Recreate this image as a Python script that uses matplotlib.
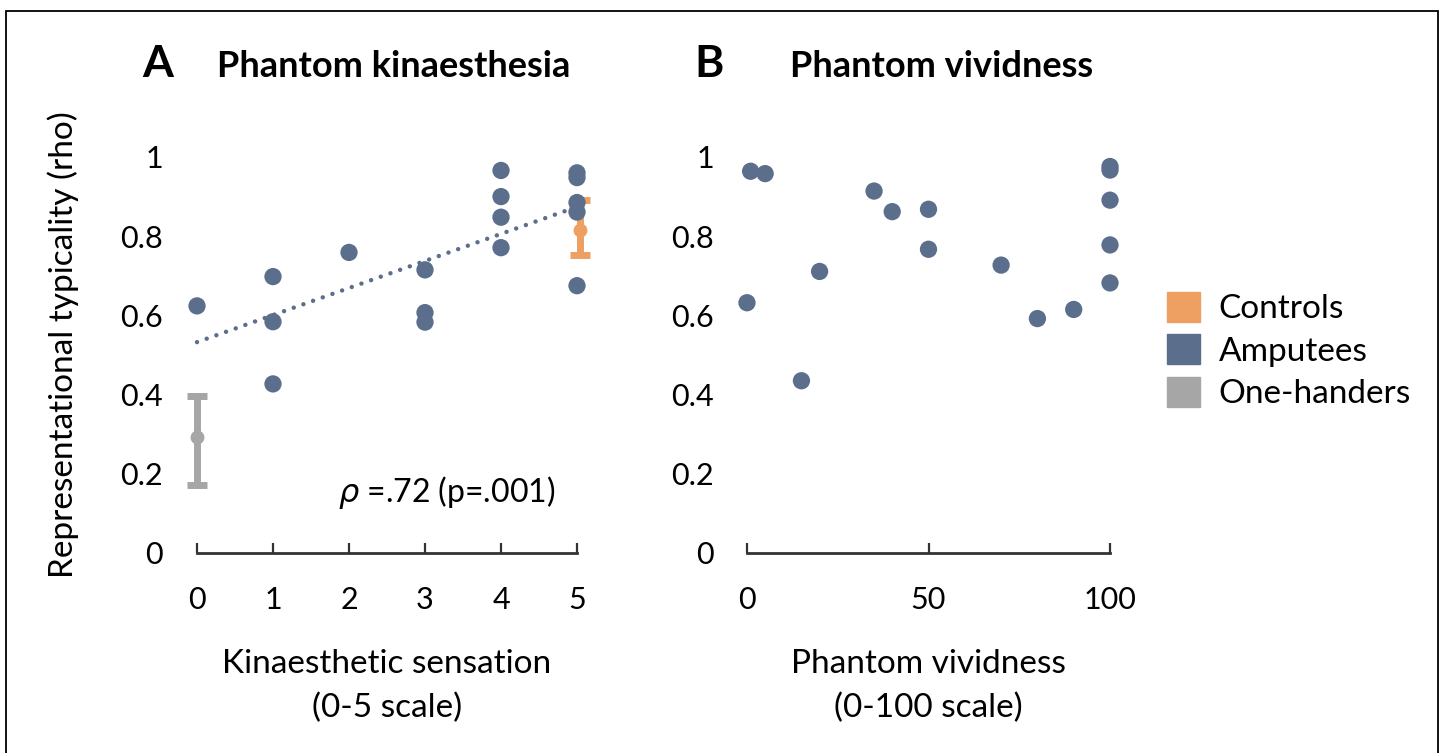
import matplotlib
matplotlib.use("Agg")
import matplotlib.pyplot as plt
import numpy as np
from matplotlib.patches import Patch, Rectangle
from matplotlib.ticker import FuncFormatter

plt.rcParams['font.family'] = ['Lato', 'DejaVu Sans']

# Panel A: kinaesthetic sensation (0-5) vs representational typicality, amputees
kin_x = [0, 1, 1, 1, 2, 3, 3, 3, 4, 4, 4, 4, 5, 5, 5, 5, 5]
kin_y = [0.624, 0.698, 0.584, 0.427, 0.759, 0.715, 0.607, 0.583,
         0.966, 0.900, 0.848, 0.771, 0.960, 0.948, 0.885, 0.861, 0.675]

# Panel B: phantom vividness (0-100) vs representational typicality, amputees
viv_x = [0, 1, 5, 15, 20, 35, 40, 50, 50, 70, 80, 90, 100, 100, 100, 100, 100]
viv_y = [0.632, 0.964, 0.958, 0.435, 0.711, 0.914, 0.862, 0.868, 0.767,
         0.727, 0.592, 0.615, 0.682, 0.778, 0.891, 0.976, 0.967]

# group means with error bars (lower, upper)
ctrl_mean, ctrl_lo, ctrl_hi = 0.816, 0.752, 0.891
oneh_mean, oneh_lo, oneh_hi = 0.292, 0.172, 0.397

C_CTRL = '#EE9F62'
C_AMP = '#5B6E8C'
C_ONE = '#A6A6A6'

W, H = 1444, 753
fig = plt.figure(figsize=(W / 100, H / 100), dpi=100)


def px_axes(x0, x1, y0, y1):
    # pixel box -> figure fraction
    return fig.add_axes([x0 / W, 1 - y1 / H, (x1 - x0) / W, (y1 - y0) / H])


def style_axes(ax, xticks):
    for s in ['top', 'right', 'left']:
        ax.spines[s].set_visible(False)
    ax.spines['bottom'].set_linewidth(2)
    ax.spines['bottom'].set_color('#333333')
    ax.spines['bottom'].set_bounds(xticks[0], xticks[-1])
    ax.set_xticks(xticks)
    ax.set_yticks([0, 0.2, 0.4, 0.6, 0.8, 1])
    ax.yaxis.set_major_formatter(FuncFormatter(lambda v, p: f'{v:g}'))
    ax.tick_params(axis='x', direction='in', length=7, width=1.6, color='#333333',
                   pad=24, labelsize=22)
    ax.tick_params(axis='y', length=0, pad=8, labelsize=22)
    ax.set_ylim(0, 1.05)


# axes boxes in pixels (x0 for data 0 at 197 / 747)
axA = px_axes(174.2, 599.8, 137.2, 553)
axB = px_axes(725.2, 1131.8, 137.2, 553)
axA.set_xlim(-0.3, 5.3)
axB.set_xlim(-6, 106)
style_axes(axA, [0, 1, 2, 3, 4, 5])
style_axes(axB, [0, 50, 100])

# trend line from a linear fit of the amputee data
slope, icpt = np.polyfit(kin_x, kin_y, 1)
xs = np.array([0, 5])
axA.plot(xs, icpt + slope * xs, color=C_AMP, lw=3.2, linestyle=(0, (0.01, 2.3)),
         dash_capstyle='round', zorder=2)

axA.errorbar([5.04], [ctrl_mean], yerr=[[ctrl_mean - ctrl_lo], [ctrl_hi - ctrl_mean]],
             fmt='o', color=C_CTRL, ms=9, elinewidth=5, capsize=7, capthick=5, zorder=3)
axA.errorbar([0], [oneh_mean], yerr=[[oneh_mean - oneh_lo], [oneh_hi - oneh_mean]],
             fmt='o', color=C_ONE, ms=9, elinewidth=5, capsize=7, capthick=5, zorder=3)
axA.scatter(kin_x, kin_y, s=155, color=C_AMP, edgecolor='none', zorder=4)
axB.scatter(viv_x, viv_y, s=155, color=C_AMP, edgecolor='none', zorder=4)

axA.text(4.72, 0.154, r'$\rho$ =.72 (p=.001)', ha='right', va='center', fontsize=23)

axA.set_xlabel('Kinaesthetic sensation\n(0-5 scale)', fontsize=24, linespacing=1.55, labelpad=25)
axB.set_xlabel('Phantom vividness\n(0-100 scale)', fontsize=24, linespacing=1.55, labelpad=25)
axA.set_ylabel('Representational typicality (rho)', fontsize=24, labelpad=30)

# panel letters and titles
fig.text(142 / W, 1 - 77 / H, 'A', fontsize=32, fontweight='bold', va='baseline')
fig.text(217 / W, 1 - 77 / H, 'Phantom kinaesthesia', fontsize=26, fontweight='bold', va='baseline')
fig.text(694 / W, 1 - 77 / H, 'B', fontsize=32, fontweight='bold', va='baseline')
fig.text(790 / W, 1 - 77 / H, 'Phantom vividness', fontsize=26, fontweight='bold', va='baseline')

handles = [Patch(color=C_CTRL, label='Controls'),
           Patch(color=C_AMP, label='Amputees'),
           Patch(color=C_ONE, label='One-handers')]
fig.legend(handles=handles, loc='upper left', bbox_to_anchor=(1167 / W, 1 - 292 / H),
           frameon=False, fontsize=24, handlelength=1.0, handleheight=1.0,
           handletextpad=0.55, labelspacing=0.3, borderpad=0, borderaxespad=0)

# outer frame
fig.patches.append(Rectangle((6 / W, -0.05), (1438 - 6) / W, 1.05 - 11 / H,
                             transform=fig.transFigure, fill=False, lw=1.3,
                             edgecolor='black'))

fig.savefig('out.png', dpi=100)
